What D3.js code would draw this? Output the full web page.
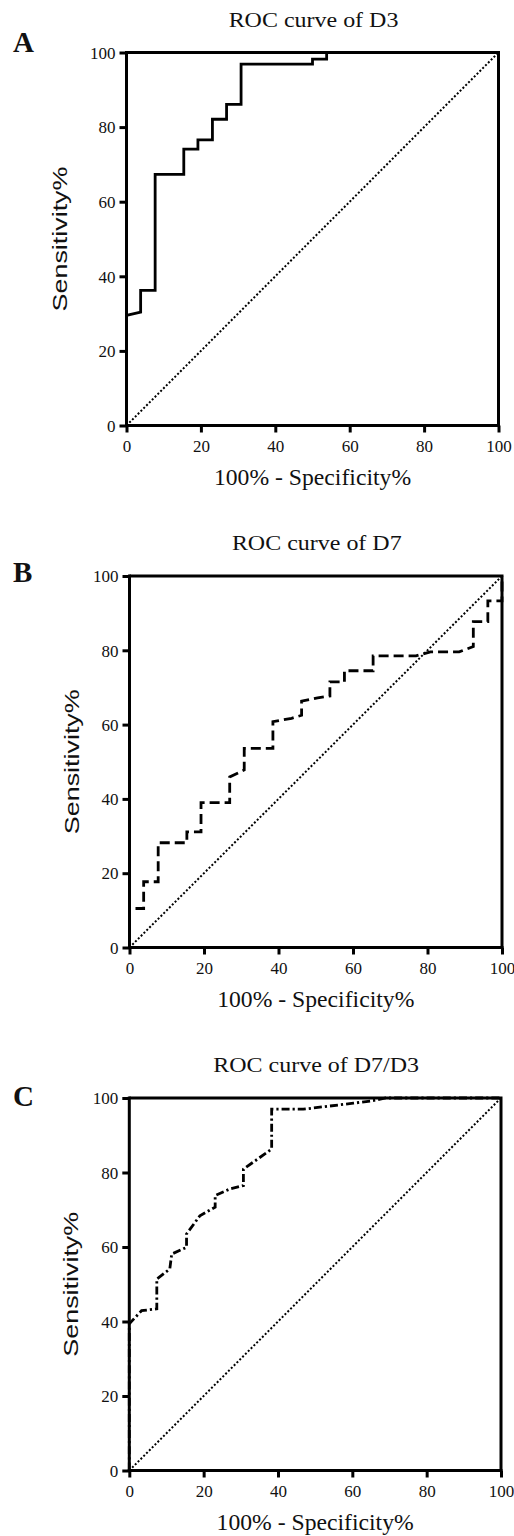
<!DOCTYPE html>
<html><head><meta charset="utf-8">
<script src="https://cdn.jsdelivr.net/npm/d3@7"></script>
<style>body{margin:0;background:#fff}svg{display:block}</style>
</head><body>
<svg id="chart" width="514" height="1536"></svg>
<script>
// ---- data ----
const xTicks = [0, 20, 40, 60, 80, 100];
const yTicks = [0, 20, 40, 60, 80, 100];
const titles = ["ROC curve of D3", "ROC curve of D7", "ROC curve of D7/D3"];
const panelLetters = ["A", "B", "C"];
const xTitle = "100% - Specificity%";
const yTitle = "Sensitivity%";
// ROC vertices: 100% - specificity (x), sensitivity (y)
const d3Fpr = [0, 0, 3.8, 3.8, 7.7, 7.7, 15.4, 15.4, 19.2, 19.2, 23.1, 23.1, 26.9, 26.9, 30.8, 30.8, 50.0, 50.0, 53.8, 53.8, 100];
const d3Tpr = [0, 29.5, 30.4, 36.2, 36.2, 67.3, 67.3, 74.1, 74.1, 76.6, 76.6, 82.1, 82.1, 86.1, 86.1, 96.9, 96.9, 98.2, 98.2, 100, 100];
const d7Fpr = [0, 0, 3.8, 3.8, 7.7, 7.7, 15.4, 15.4, 19.2, 19.2, 26.9, 26.9, 30.8, 30.8, 38.5, 38.5, 43.5, 46.2, 46.2, 50.5, 53.8, 53.8, 57.7, 57.7, 65.4, 65.4, 76.9, 80.8, 88.5, 92.3, 92.3, 96.2, 96.2, 100, 100];
const d7Tpr = [0, 10.5, 10.5, 17.7, 17.7, 28.2, 28.2, 31.1, 31.1, 39.0, 39.0, 45.9, 47.8, 53.6, 53.6, 60.8, 61.7, 62.5, 66.3, 67.2, 67.7, 71.5, 71.5, 74.5, 74.5, 78.5, 78.5, 79.6, 79.6, 81.0, 87.7, 87.7, 93.3, 93.3, 100];
const ratioFpr = [0, 0, 3.3, 7.4, 7.4, 10.9, 11.4, 15.4, 15.4, 19.0, 23.1, 23.1, 27.1, 30.7, 30.7, 38.3, 38.3, 46.8, 60.3, 65.6, 69.0, 100];
const ratioTpr = [0, 39.4, 42.9, 43.4, 51.4, 54.1, 58.1, 59.9, 63.5, 68.4, 70.7, 73.8, 75.6, 76.5, 80.9, 86.3, 97.0, 97.0, 98.6, 99.3, 100, 100];

// ---- layout ----
const layout = [
  {x0: 126.5, x1: 498.5, y0: 425.5, y1: 52.5, dash: null, letterY: 52, yTitleX: 67},
  {x0: 129.5, x1: 502, y0: 947.5, y1: 576, dash: "10,5", letterY: 582, yTitleX: 79},
  {x0: 129.3, x1: 501, y0: 1470.5, y1: 1098, dash: "8,3,2.2,3", letterY: 1106, yTitleX: 78}
];
const series = [
  d3Fpr.map((v, i) => [v, d3Tpr[i]]),
  d7Fpr.map((v, i) => [v, d7Tpr[i]]),
  ratioFpr.map((v, i) => [v, ratioTpr[i]])
];

const svg = d3.select("#chart");
const serif = "'Liberation Serif','Times New Roman',serif";
const sans = "'Liberation Sans',Arial,sans-serif";

layout.forEach((L, p) => {
  const x = d3.scaleLinear().domain([0, 100]).range([L.x0, L.x1]);
  const y = d3.scaleLinear().domain([0, 100]).range([L.y0, L.y1]);
  const g = svg.append("g");

  // diagonal reference
  g.append("path")
    .attr("d", d3.line()([[x(0), y(0)], [x(100), y(100)]]))
    .attr("stroke", "#000").attr("stroke-width", 2)
    .attr("stroke-dasharray", "2,2").attr("fill", "none");

  // ROC curve
  g.append("path")
    .attr("d", d3.line().x(d => x(d[0])).y(d => y(d[1]))(series[p]))
    .attr("stroke", "#000").attr("stroke-width", 2.8)
    .attr("stroke-dasharray", L.dash)
    .attr("stroke-linejoin", "miter")
    .attr("fill", "none");

  // top and right frame
  g.append("path")
    .attr("d", d3.line()([[x(0), y(100)], [x(100), y(100)], [x(100), y(0)]]))
    .attr("stroke", "#000").attr("stroke-width", 3).attr("fill", "none");

  // axes
  const ax = g.append("g").attr("transform", `translate(0,${L.y0})`)
    .call(d3.axisBottom(x).tickValues(xTicks).tickSize(7).tickPadding(3).tickSizeOuter(0));
  const ay = g.append("g").attr("transform", `translate(${L.x0},0)`)
    .call(d3.axisLeft(y).tickValues(yTicks).tickSize(7).tickPadding(3).tickSizeOuter(0));
  [ax, ay].forEach(a => {
    a.select(".domain").attr("stroke", "#000").attr("stroke-width", 3);
    a.selectAll(".tick line").attr("stroke", "#000").attr("stroke-width", 3);
    a.selectAll(".tick text").attr("fill", "#111").style("font-family", serif).style("font-size", "17px");
  });
  ax.selectAll(".tick text").attr("dy", null).attr("y", 26.5);
  ay.selectAll(".tick text").attr("dy", "0.34em").attr("x", -11);
  ax.select(".domain").attr("d", `M${L.x0 - 1.5},0H${L.x1 + 1.5}`);
  ay.select(".domain").attr("d", `M0,${L.y0}V${L.y1 - 1.5}`);

  // title
  g.append("text").attr("transform", `translate(${(L.x0 + L.x1) / 2 + 1},${L.y1 - 26}) scale(1.09,1)`)
    .attr("text-anchor", "middle").style("font-family", serif).style("font-size", "22px")
    .attr("fill", "#111").text(titles[p]);
  // panel letter
  g.append("text").attr("x", 13).attr("y", L.letterY)
    .style("font-family", serif).style("font-size", "29px").style("font-weight", "bold")
    .attr("fill", "#111").text(panelLetters[p]);
  // x title
  g.append("text").attr("transform", `translate(${(L.x0 + L.x1) / 2},${L.y0 + 59.5}) scale(1.03,1)`)
    .attr("text-anchor", "middle").style("font-family", serif).style("font-size", "23px")
    .attr("fill", "#111").text(xTitle);
  // y title
  g.append("text").attr("transform", `translate(${L.yTitleX},${(L.y0 + L.y1) / 2}) rotate(-90) scale(1.28,1)`)
    .attr("text-anchor", "middle").style("font-family", sans).style("font-size", "21px")
    .attr("fill", "#111").text(yTitle);
});
</script>
</body></html>
